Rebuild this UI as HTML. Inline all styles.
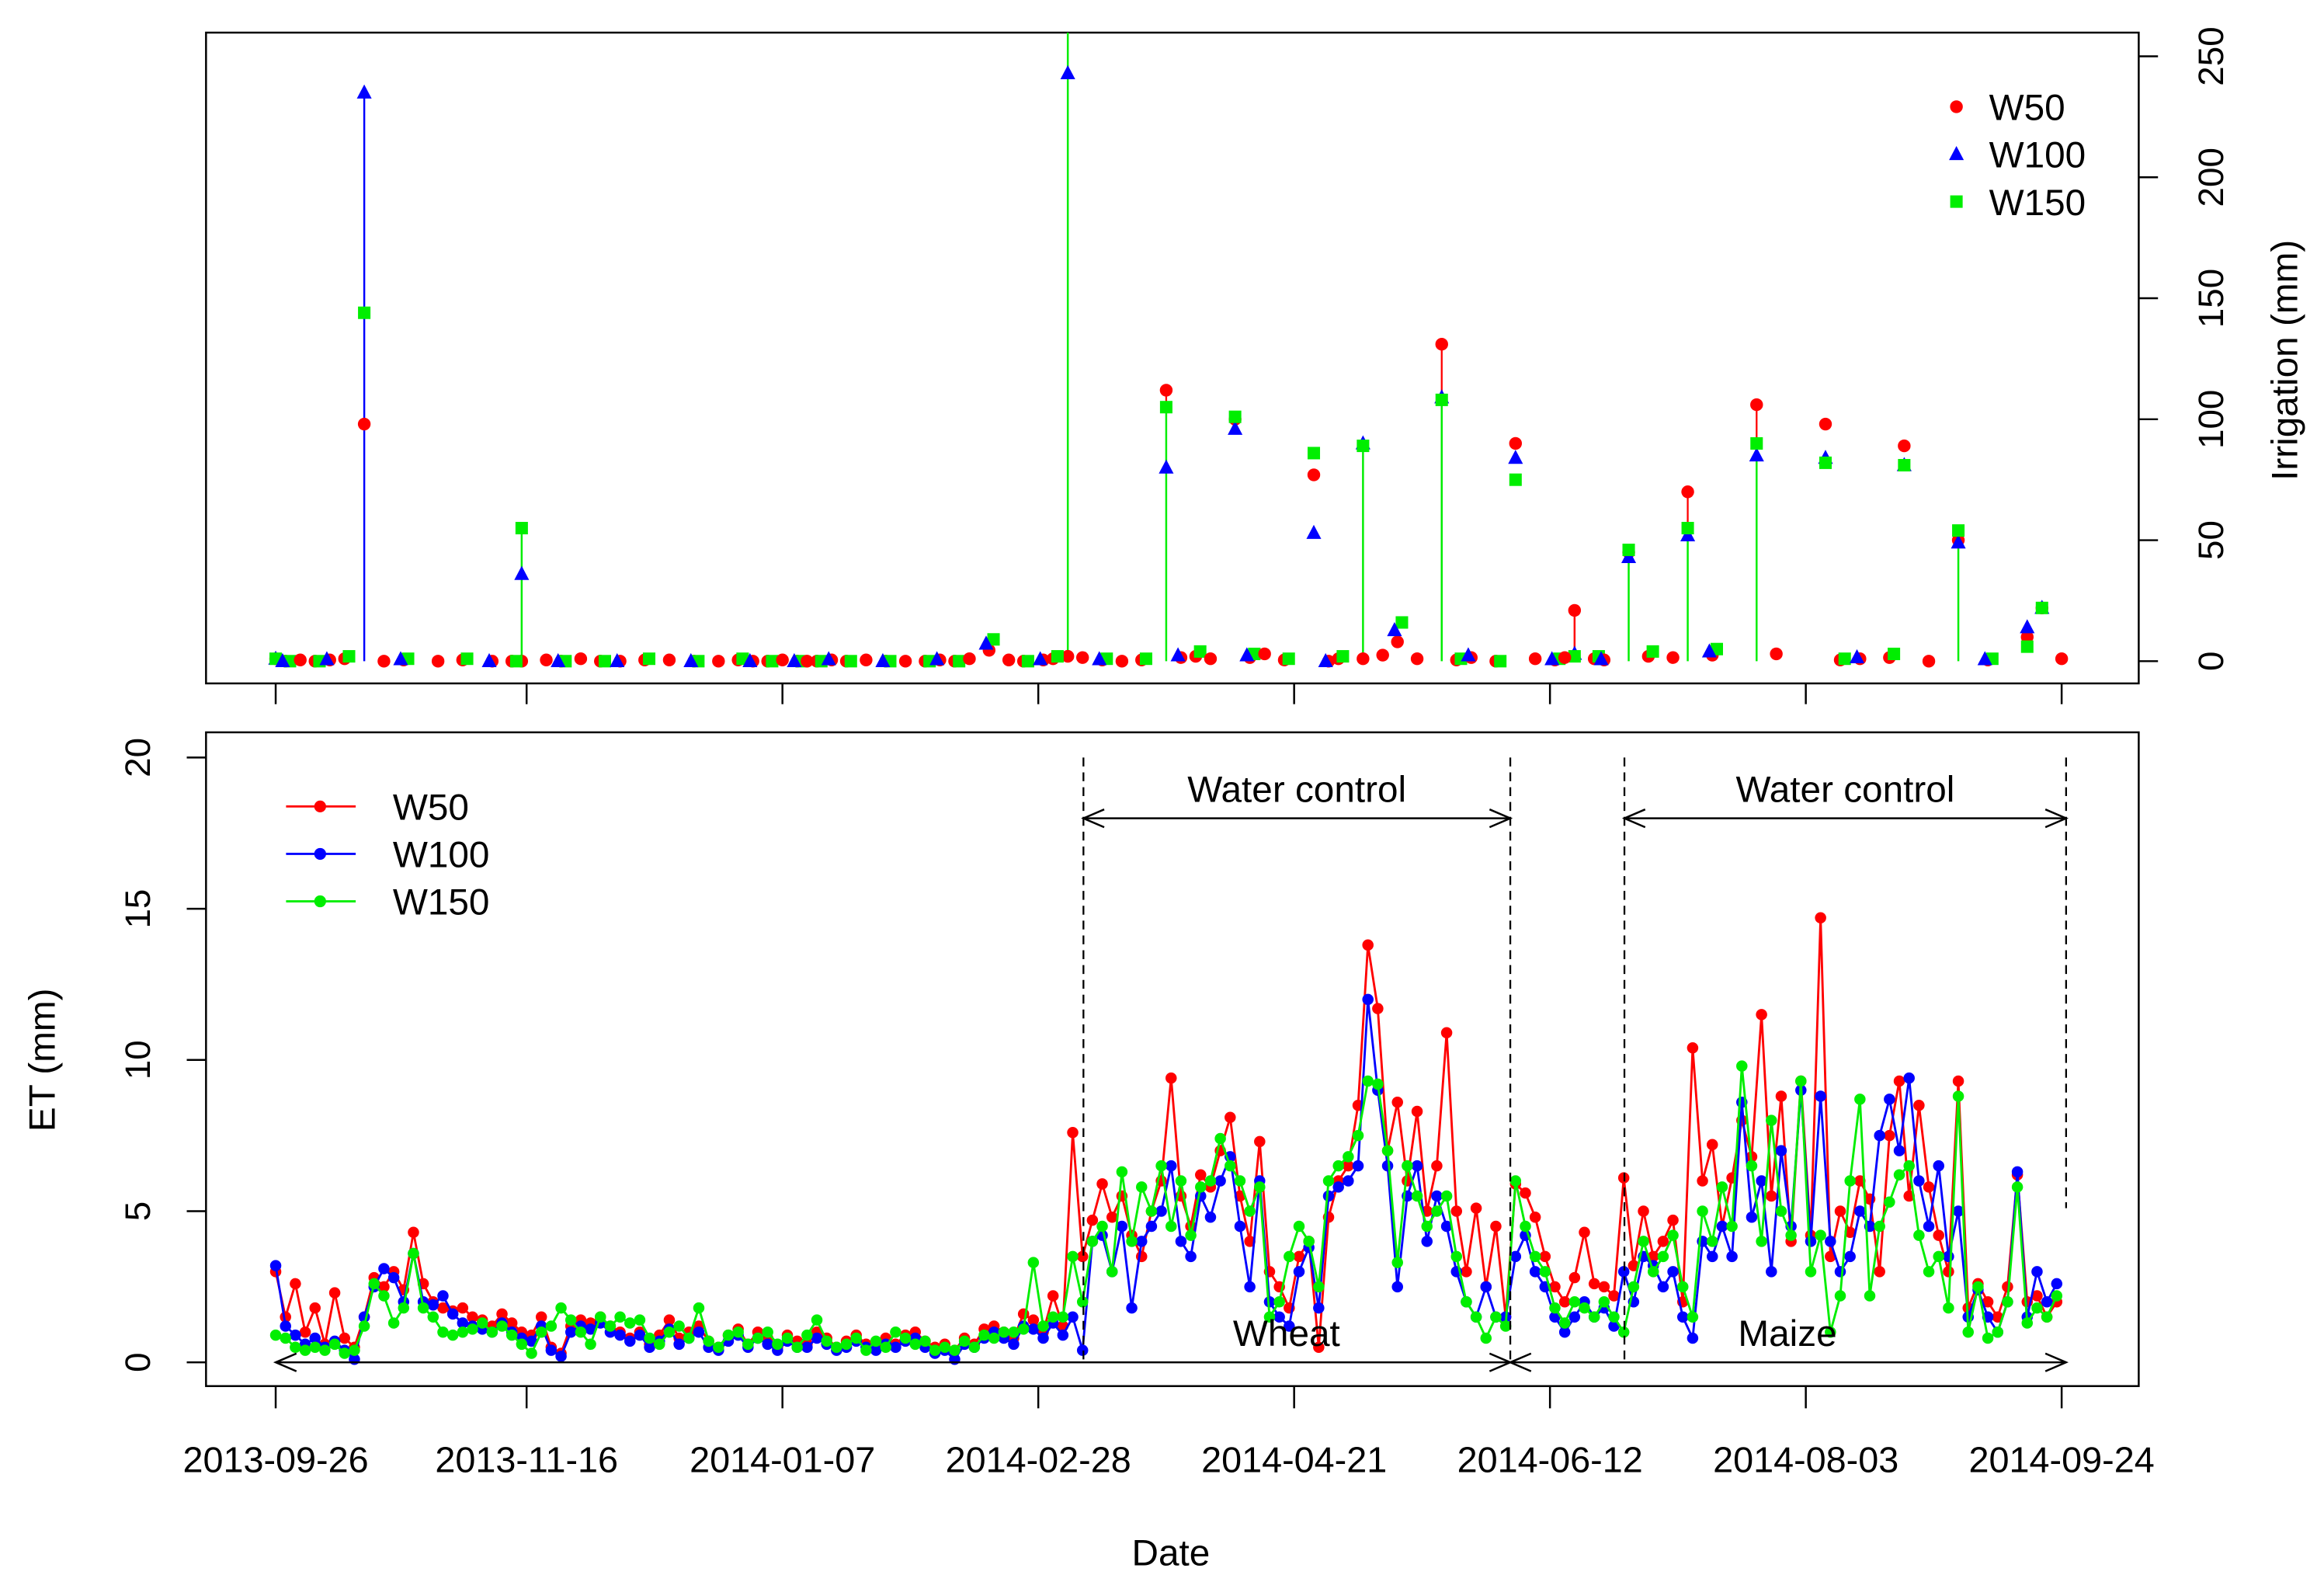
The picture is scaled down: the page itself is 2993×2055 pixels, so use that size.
<!DOCTYPE html>
<html><head><meta charset="utf-8"><style>
html,body{margin:0;padding:0;background:#fff;}
svg{display:block;font-family:"Liberation Sans",Arial,sans-serif;}
</style></head><body>
<svg id="chart" width="2993" height="2055" viewBox="0 0 1568 1076.6" xmlns="http://www.w3.org/2000/svg">
<rect x="0" y="0" width="1568" height="1077" fill="#fff"/>
<g id="topPanel"></g>
<g id="botPanel"></g>
</svg>
<script>
// ---- data ----
const dateLabels = ["2013-09-26","2013-11-16","2014-01-07","2014-02-28","2014-04-21","2014-06-12","2014-08-03","2014-09-24"];
const tickDays = [0,51,103,155,207,259,311,363];
const etStepDays = 2;
const etW50 = [3.0,1.5,2.6,1.0,1.8,0.6,2.3,0.8,0.5,1.5,
2.8,2.5,3.0,2.4,4.3,2.6,2.0,1.8,1.7,1.8,
1.5,1.4,1.2,1.6,1.3,1.0,0.9,1.5,0.5,0.3,
1.2,1.4,1.3,1.5,1.2,1.0,0.8,1.0,0.6,0.9,
1.4,0.8,1.0,1.2,0.7,0.5,0.9,1.1,0.6,1.0,
0.8,0.5,0.9,0.7,0.6,1.0,0.8,0.5,0.7,0.9,
0.6,0.5,0.8,0.6,0.9,1.0,0.7,0.5,0.6,0.4,
0.8,0.6,1.1,1.2,1.0,0.8,1.6,1.4,1.0,2.2,
1.2,7.6,3.5,4.7,5.9,4.8,5.5,4.2,3.5,5.0,
6.0,9.4,5.5,4.5,6.2,5.8,7.0,8.1,5.5,4.0,
7.3,3.0,2.5,1.8,3.5,4.0,0.5,4.8,6.0,6.5,
8.5,13.8,11.7,7.0,8.6,6.0,8.3,5.0,6.5,10.9,
5.0,3.0,5.1,2.5,4.5,1.5,5.9,5.6,4.8,3.5,
2.5,2.0,2.8,4.3,2.6,2.5,2.2,6.1,3.2,5.0,
3.5,4.0,4.7,2.0,10.4,6.0,7.2,4.5,6.1,8.0,
6.8,11.5,5.5,8.8,4.0,9.3,4.2,14.7,3.5,5.0,
4.3,6.0,5.4,3.0,7.5,9.3,5.5,8.5,5.8,4.2,
3.0,9.3,1.8,2.6,2.0,1.5,2.5,6.2,2.0,2.2,
1.5,2.0];
const etW100 = [3.2,1.2,0.9,0.6,0.8,0.5,0.7,0.4,0.1,1.5,
2.5,3.1,2.8,2.0,3.6,2.0,1.9,2.2,1.6,1.3,
1.2,1.1,1.0,1.3,1.0,0.8,0.7,1.2,0.4,0.2,
1.0,1.2,1.1,1.3,1.0,0.9,0.7,0.9,0.5,0.7,
1.1,0.6,0.8,1.0,0.5,0.4,0.7,0.9,0.5,0.8,
0.6,0.4,0.7,0.5,0.5,0.8,0.6,0.4,0.5,0.7,
0.5,0.4,0.6,0.5,0.7,0.8,0.5,0.3,0.4,0.1,
0.6,0.5,0.8,1.0,0.8,0.6,1.2,1.1,0.8,1.3,
0.9,1.5,0.4,4.0,4.2,3.0,4.5,1.8,4.0,4.5,
5.0,6.5,4.0,3.5,5.5,4.8,6.0,6.8,4.5,2.5,
6.0,2.0,1.5,1.2,3.0,3.8,1.8,5.5,5.8,6.0,
6.5,12.0,9.0,6.5,2.5,5.5,6.5,4.0,5.5,4.5,
3.0,2.0,1.5,2.5,1.5,1.5,3.5,4.2,3.0,2.5,
1.5,1.0,1.5,2.0,1.5,1.8,1.2,3.0,2.0,3.5,
3.2,2.5,3.0,1.5,0.8,4.0,3.5,4.5,3.5,8.6,
4.8,6.0,3.0,7.0,4.5,9.0,4.0,8.8,4.0,3.0,
3.5,5.0,4.5,7.5,8.7,7.0,9.4,6.0,4.5,6.5,
3.5,5.0,1.5,2.4,1.5,1.0,2.0,6.3,1.5,3.0,
2.0,2.6];
const etW150 = [0.9,0.8,0.5,0.4,0.5,0.4,0.6,0.3,0.4,1.2,
2.6,2.2,1.3,1.8,3.6,1.8,1.5,1.0,0.9,1.0,
1.1,1.3,1.0,1.2,0.9,0.6,0.3,1.0,1.2,1.8,
1.4,1.0,0.6,1.5,1.2,1.5,1.3,1.4,0.8,0.6,
1.0,1.2,0.8,1.8,0.7,0.5,0.9,1.0,0.6,0.8,
1.0,0.6,0.8,0.5,0.9,1.4,0.7,0.5,0.6,0.8,
0.4,0.7,0.5,1.0,0.8,0.6,0.7,0.4,0.5,0.4,
0.7,0.5,0.9,0.8,1.0,1.0,1.1,3.3,1.2,1.5,
1.5,3.5,2.0,4.0,4.5,3.0,6.3,4.0,5.8,5.0,
6.5,4.5,6.0,4.2,5.8,6.0,7.4,6.5,6.0,5.0,
5.8,1.5,2.0,3.5,4.5,4.0,2.5,6.0,6.5,6.8,
7.5,9.3,9.2,7.0,3.3,6.5,5.5,4.5,5.0,5.5,
3.5,2.0,1.5,0.8,1.5,1.2,6.0,4.5,3.5,3.0,
1.8,1.3,2.0,1.8,1.5,2.0,1.5,1.0,2.5,4.0,
3.0,3.5,4.2,2.5,1.5,5.0,4.0,5.8,4.5,9.8,
6.5,4.0,8.0,5.0,4.2,9.3,3.0,4.2,1.0,2.2,
6.0,8.7,2.2,4.5,5.3,6.2,6.5,4.2,3.0,3.5,
1.8,8.8,1.0,2.5,0.8,1.0,2.0,5.8,1.3,1.8,
1.5,2.2];
// irrigation events
const irrDays = [0,18,50,161,181,195,211,221,237,252,264,275,287,301,315,331,342,356,359];
const irrW50  = [1,98,0,2,112,100,77,1,131,90,21,45,70,106,98,89,50,10,22];
const irrW100 = [1,235,36,243,80,96,53,90,109,84,3,43,52,85,84,81,49,14,22];
const irrW150 = [1,144,55,265,105,101,86,89,108,75,2,46,55,90,82,81,54,6,22];
// which series draws a stem for each event: 0 none, 1 W50, 2 W100, 3 W150
const irrStem = [0,2,3,3,3,0,0,3,3,0,1,3,3,3,0,0,3,0,0];
const smallDays = [2,5,8,11,14,22,26,33,38,44,48,55,58,62,66,70,75,80,85,90,94,97,100,103,106,108,110,113,116,120,124,128,132,135,138,141,145,149,152,156,158,164,168,172,176,184,187,190,198,201,205,214,216,225,228,232,240,243,248,256,260,262,268,270,279,284,292,305,318,322,328,336,348,363];
const smallVals = [0,1,0,1,2,0,1,0,1,0,0,1,0,2,0,0,1,1,0,0,1,0,0,1,0,0,0,1,0,1,0,0,0,1,0,2,9,1,0,1,2,3,1,0,1,3,4,2,3,6,1,0,2,5,16,2,1,3,0,2,1,3,2,1,4,3,5,6,1,2,3,0,1,2];

// ---- scales ----
const X = d => 186 + d * (1205/363);
const YT = v => 446 - v * 1.632;
const YB = v => 919 - v * 20.4;
const NS = "http://www.w3.org/2000/svg";
function mk(tag, attrs, parent, txt){
  const e = document.createElementNS(NS, tag);
  for (const k in attrs) e.setAttribute(k, attrs[k]);
  if (txt !== undefined) e.textContent = txt;
  parent.appendChild(e); return e;
}
const topG = document.getElementById('topPanel'), botG = document.getElementById('botPanel');
const RED="#ff0000", BLUE="#0000ff", GREEN="#00ee00";

// ---- frames & axes ----
let f1 = mk('rect',{x:139,y:22,width:1304,height:439,fill:'none',stroke:'#000','stroke-width':1.3},topG);


let f2 = mk('rect',{x:139,y:494,width:1304,height:441,fill:'none',stroke:'#000','stroke-width':1.3},botG);



tickDays.forEach((d,i)=>{
  const x = X(d);
  let t1 = mk('line',{x1:x,y1:461,x2:x,y2:475,stroke:'#000','stroke-width':1.3},topG);
  
  
  let t2 = mk('line',{x1:x,y1:935,x2:x,y2:950,stroke:'#000','stroke-width':1.3},botG);
  
  
  let l = mk('text',{x:x,y:993,'font-size':24.5,'text-anchor':'middle'},botG,dateLabels[i]);
  
  
});
[0,50,100,150,200,250].forEach(v=>{
  const y = YT(v);
  let t = mk('line',{x1:1443,y1:y,x2:1456,y2:y,stroke:'#000','stroke-width':1.3},topG);
  
  
  let l = mk('text',{x:0,y:0,'font-size':24,'text-anchor':'middle',transform:`translate(1500,${y}) rotate(-90)`},topG,String(v));
  
  
});
[0,5,10,15,20].forEach(v=>{
  const y = YB(v);
  let t = mk('line',{x1:126,y1:y,x2:139,y2:y,stroke:'#000','stroke-width':1.3},botG);
  
  
  let l = mk('text',{x:0,y:0,'font-size':24,'text-anchor':'middle',transform:`translate(101,${y}) rotate(-90)`},botG,String(v));
  
  
});
let yt1 = mk('text',{x:0,y:0,'font-size':25,'text-anchor':'middle',transform:'translate(1550,243) rotate(-90)'},topG,'Irrigation (mm)');


let yt2 = mk('text',{x:0,y:0,'font-size':25,'text-anchor':'middle',transform:'translate(37,715) rotate(-90)'},botG,'ET (mm)');


let xt = mk('text',{x:790,y:1056,'font-size':25,'text-anchor':'middle'},botG,'Date');



// ---- top panel markers ----
function marker(kind,x,y,parent,name){
  let e;
  if (kind==='c') e = mk('circle',{cx:x,cy:y,r:4.3,fill:RED},parent);
  else if (kind==='t') e = mk('polygon',{points:`${x},${y-5.5} ${x-5},${y+4} ${x+5},${y+4}`,fill:BLUE},parent);
  else e = mk('rect',{x:x-4.2,y:y-4.2,width:8.4,height:8.4,fill:GREEN},parent);
  
  
  return e;
}
const clipTop = mk('clipPath',{id:'ct'},document.getElementById('chart'));
mk('rect',{x:139,y:22,width:1304,height:439},clipTop);
const gTop = mk('g',{'clip-path':'url(#ct)'},topG);
irrDays.forEach((d,i)=>{
  const x = X(d);
  const st = irrStem[i];
  if (st > 0){
    const col = [null,RED,BLUE,GREEN][st];
    const v = [0,irrW50[i],irrW100[i],irrW150[i]][st];
    let s = mk('line',{x1:x,y1:YT(0),x2:x,y2:YT(v),stroke:col,'stroke-width':1.3},gTop);
    
    
    if (irrW50[i] > v + 5){
      let s2 = mk('line',{x1:x,y1:YT(v),x2:x,y2:YT(irrW50[i]),stroke:RED,'stroke-width':1.2},gTop);
      
      
    }
  }
  marker('c',x,YT(irrW50[i]),gTop,'irrigation-point-w50');
  marker('t',x,YT(irrW100[i]),gTop,'irrigation-point-w100');
  marker('s',x,YT(irrW150[i]),gTop,'irrigation-point-w150');
});
smallDays.forEach((d,i)=>{
  const x = X(d);
  marker('c',x,YT(smallVals[i]*0.5),gTop,'irrigation-point-w50');
  if (i%2===0) marker('s',x+3,YT(smallVals[i]),gTop,'irrigation-point-w150');
  if (i%3===0) marker('t',x-2,YT(smallVals[i]*0.8),gTop,'irrigation-point-w100');
});
// top legend
[['c','W50',72],['t','W100',104],['s','W150',136]].forEach(([k,t,y])=>{
  marker(k,1320,y,topG,'legend-marker-'+t.toLowerCase());
  let l = mk('text',{x:1342,y:y+9,'font-size':25},topG,t);
  
  
});

// ---- bottom series ----
function series(vals,col,name){
  const pts = vals.map((v,i)=>[X(i*etStepDays),YB(v)]);
  let p = mk('polyline',{points:pts.map(p=>p.join(',')).join(' '),fill:'none',stroke:col,'stroke-width':1.5},botG);
  
  
  pts.forEach(([x,y])=>{
    let c = mk('circle',{cx:x,cy:y,r:3.8,fill:col},botG);
    
    
  });
}
series(etW50,RED,'w50');
series(etW100,BLUE,'w100');
series(etW150,GREEN,'w150');

// annotations
[[731,511,919],[1019,511,919],[1096,511,919],[1394,511,815]].forEach(([x,y1,y2])=>{
  let l = mk('line',{x1:x,y1:y1,x2:x,y2:y2,stroke:'#000','stroke-width':1.2,'stroke-dasharray':'6,4'},botG);
  
  
});
function arrow(x1,x2,y,name){
  const g = mk('g',{stroke:'#000','stroke-width':1.3,fill:'none'},botG);
  
  
  mk('line',{x1:x1,y1:y,x2:x2,y2:y},g);
  mk('polyline',{points:`${x1+14},${y-6} ${x1},${y} ${x1+14},${y+6}`},g);
  mk('polyline',{points:`${x2-14},${y-6} ${x2},${y} ${x2-14},${y+6}`},g);
}
arrow(731,1019,552,'water-control-arrow-wheat');
arrow(1096,1394,552,'water-control-arrow-maize');
arrow(186,1019,919,'wheat-season-arrow');
arrow(1019,1394,919,'maize-season-arrow');
[[875,541,'Water control'],[1245,541,'Water control'],[868,908,'Wheat'],[1206,908,'Maize']].forEach(([x,y,t])=>{
  let l = mk('text',{x:x,y:y,'font-size':25,'text-anchor':'middle'},botG,t);
  
  
});
// bottom legend
[[RED,'W50',544],[BLUE,'W100',576],[GREEN,'W150',608]].forEach(([c,t,y])=>{
  const g = mk('g',{},botG);
  
  
  mk('line',{x1:193,y1:y,x2:240,y2:y,stroke:c,'stroke-width':1.5},g);
  mk('circle',{cx:216,cy:y,r:4,fill:c},g);
  mk('text',{x:265,y:y+9,'font-size':25},g,t);
});
</script>
</body></html>
